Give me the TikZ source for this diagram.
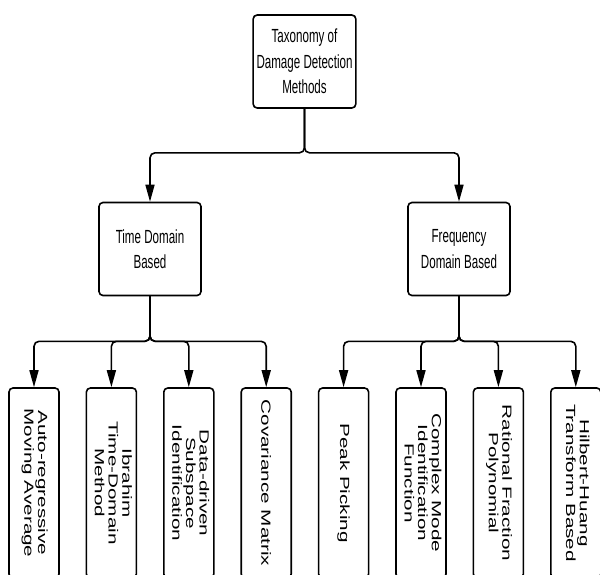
\documentclass[tikz,border=0pt]{standalone}
\usepackage{fontspec}
\usepackage{graphicx}
\usepackage{tikz}
\usetikzlibrary{arrows.meta,calc,positioning,shapes}

\newfontfamily\boxfont{Liberation Sans}[FakeStretch=0.61]
\newfontfamily\leaffont{Liberation Sans}[FakeStretch=1.56]

\begin{document}
\begin{tikzpicture}[auto,>={Triangle[length=17pt,width=9pt]},x=1pt,y=1pt]
	\tikzstyle{block} = [draw, rectangle, rounded corners=4pt, line width=1.6pt, minimum height=93pt, minimum width=102pt, align=center, font=\boxfont\fontsize{19}{25.5}\selectfont]
	\tikzstyle{leaf} = [draw, rectangle, rounded corners=4pt, line width=1.6pt, minimum height=190pt, minimum width=50pt, inner sep=0pt, font=\leaffont\fontsize{13.25}{13.5}\selectfont]
	\tikzstyle{edge} = [line width=1.6pt, rounded corners=5pt]

	\useasboundingbox (0,0) rectangle (600,-574);

	\node [block] (taxonomy) at (304.5,-61.5) {Taxonomy of\\Damage Detection\\Methods};
	\node [coordinate, below = 44pt of taxonomy] (split) {};

	\node [block] (timedom) at (150,-249) {Time Domain\\Based};
	\node [block] (freqdom) at (459,-249) {Frequency\\Domain Based};
	\node [coordinate, below = 45pt of timedom] (tsplit) {};
	\node [coordinate, below = 45pt of freqdom] (fsplit) {};

	\node [leaf] (arma) at (34,-483) {\rotatebox{-90}{\begin{tabular}{@{}c@{}}Auto-regressive\\Moving Average\end{tabular}}};
	\node [leaf, right = 25.8pt of arma] (ibrahim) {\rotatebox{-90}{\begin{tabular}{@{}c@{}}Ibrahim\\Time-Domain\\Method\end{tabular}}};
	\node [leaf, right = 25.8pt of ibrahim] (ddsi) {\rotatebox{-90}{\begin{tabular}{@{}c@{}}Data-driven\\Subspace\\Identification\end{tabular}}};
	\node [leaf, right = 25.8pt of ddsi] (covar) {\rotatebox{-90}{Covariance Matrix}};
	\node [leaf, right = 25.8pt of covar] (peak) {\rotatebox{-90}{Peak Picking}};
	\node [leaf, right = 25.8pt of peak] (cmif) {\rotatebox{-90}{\begin{tabular}{@{}c@{}}Complex Mode\\Identification\\Function\end{tabular}}};
	\node [leaf, right = 25.8pt of cmif] (rfp) {\rotatebox{-90}{\begin{tabular}{@{}c@{}}Rational Fraction\\Polynomial\end{tabular}}};
	\node [leaf, right = 25.8pt of rfp] (hht) {\rotatebox{-90}{\begin{tabular}{@{}c@{}}Hilbert-Huang\\Transform Based\end{tabular}}};

	\draw [edge, ->] (taxonomy) -- (split) -| (timedom);
	\draw [edge, ->] (taxonomy) -- (split) -| (freqdom);

	\draw [edge, ->] (timedom) -- (tsplit) -| (arma);
	\draw [edge, ->] (timedom) -- (tsplit) -| (ibrahim);
	\draw [edge, ->] (timedom) -- (tsplit) -| (ddsi);
	\draw [edge, ->] (timedom) -- (tsplit) -| (covar);

	\draw [edge, ->] (freqdom) -- (fsplit) -| (peak);
	\draw [edge, ->] (freqdom) -- (fsplit) -| (cmif);
	\draw [edge, ->] (freqdom) -- (fsplit) -| (rfp);
	\draw [edge, ->] (freqdom) -- (fsplit) -| (hht);

\end{tikzpicture}
\end{document}
